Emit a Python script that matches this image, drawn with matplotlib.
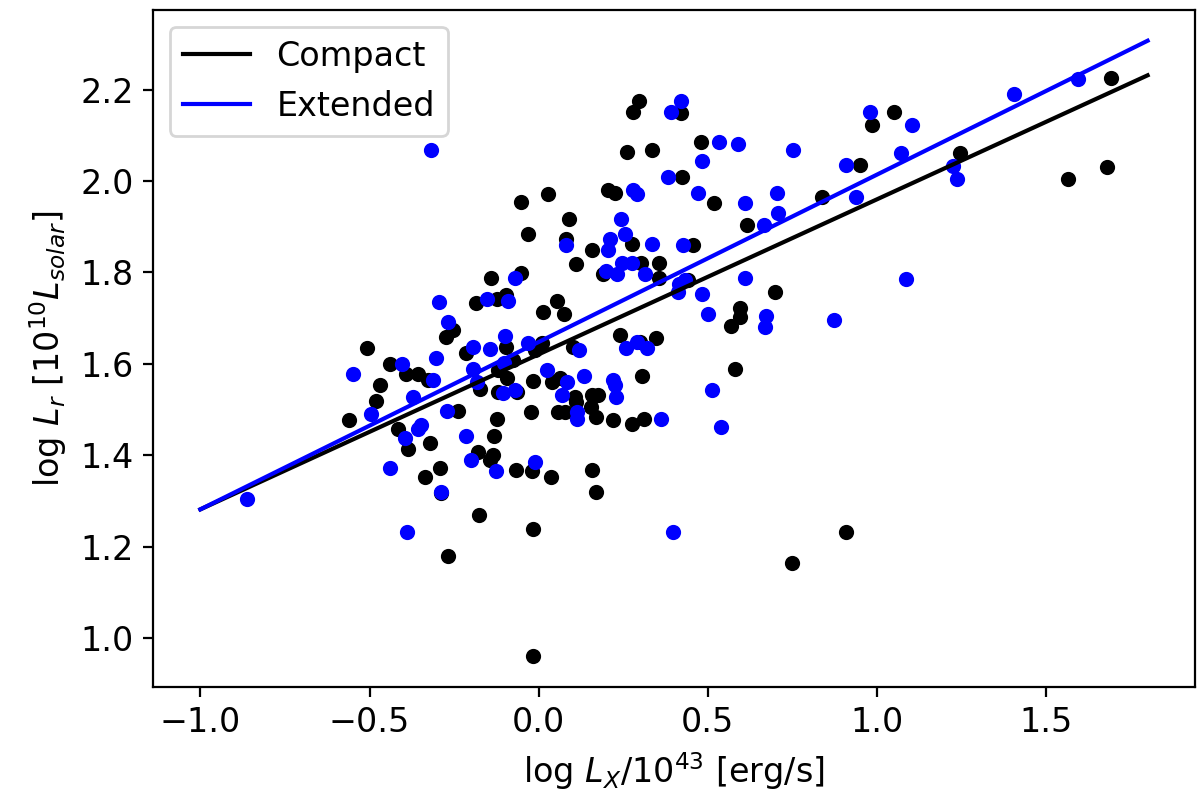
import numpy as np
import matplotlib
matplotlib.use("Agg")
import matplotlib.pyplot as plt

plt.rcParams['font.size'] = 12

# compact sources: log Lx/1e43, log Lr
compact_x = [-0.508, -0.440, -0.393, -0.358, -0.328, -0.470, -0.482, -0.561, -0.417, -0.387,
             -0.320, -0.337, -0.293, -0.290, -0.267, -0.275, -0.052, 0.028, 0.205, 0.225,
             0.090, -0.031, 0.081, 0.275, 0.158, 0.110, 0.302, 0.355, 0.190, -0.140,
             -0.052, -0.184, -0.122, -0.096, 0.054, 0.013, 0.075, -0.252, 0.240, 0.299,
             -0.096, -0.214, 0.010, -0.010, 0.102, -0.075, -0.119, -0.093, -0.016, 0.040,
             0.063, 0.305, -0.172, -0.119, -0.063, -0.237, -0.122, -0.022, 0.057, 0.078,
             0.108, 0.110, 0.158, 0.176, 0.155, 0.169, 0.219, 0.275, 0.311, -0.131,
             -0.178, -0.134, -0.143, -0.066, -0.019, 0.037, 0.158, 0.169, -0.175, -0.016,
             -0.016, 0.296, 0.420, 0.479, 0.334, 0.423, 0.950, 0.517, 0.838, 0.617,
             0.455, 0.355, 0.440, 0.700, 0.594, 0.594, 0.570, 0.346, 0.579, 0.909,
             0.750, 0.985, 1.050, 1.692, 1.244, 1.566, 1.680, 0.278, 0.261]
compact_y = [1.634, 1.599, 1.579, 1.577, 1.564, 1.555, 1.518, 1.477, 1.457, 1.415,
             1.428, 1.352, 1.372, 1.317, 1.181, 1.658, 1.955, 1.971, 1.981, 1.973,
             1.918, 1.885, 1.874, 1.863, 1.850, 1.818, 1.820, 1.820, 1.796, 1.789,
             1.798, 1.734, 1.743, 1.750, 1.737, 1.713, 1.710, 1.675, 1.664, 1.647,
             1.636, 1.625, 1.645, 1.630, 1.636, 1.608, 1.586, 1.570, 1.562, 1.560,
             1.570, 1.573, 1.546, 1.538, 1.538, 1.498, 1.479, 1.494, 1.494, 1.496,
             1.527, 1.516, 1.531, 1.531, 1.505, 1.483, 1.477, 1.468, 1.479, 1.442,
             1.407, 1.400, 1.389, 1.369, 1.365, 1.352, 1.369, 1.319, 1.269, 1.238,
             0.961, 2.176, 2.148, 2.086, 2.067, 2.008, 2.036, 1.951, 1.966, 1.903,
             1.861, 1.787, 1.783, 1.758, 1.723, 1.702, 1.682, 1.656, 1.588, 1.232,
             1.164, 2.123, 2.152, 2.226, 2.062, 2.005, 2.030, 2.152, 2.064]

# extended sources
extended_x = [-0.862, -0.549, -0.405, -0.311, -0.370, -0.496, -0.349, -0.358, -0.396, -0.440,
              -0.290, -0.390, -0.302, -0.267, -0.296, -0.270, -0.317, 0.278, 0.290, 0.243,
              0.081, 0.255, 0.211, 0.205, 0.335, 0.246, 0.275, 0.199, 0.231, 0.314,
              -0.069, -0.152, -0.090, 0.290, 0.320, 0.258, -0.099, -0.193, -0.143, -0.031,
              0.119, -0.102, -0.193, 0.025, 0.084, 0.134, 0.219, 0.225, -0.181, -0.105,
              -0.069, 0.069, 0.113, 0.113, 0.228, -0.214, -0.199, -0.125, -0.010, 0.420,
              0.390, 0.532, 0.588, 0.753, 0.482, 0.381, 0.909, 0.470, 0.611, 0.705,
              0.708, 0.938, 0.667, 0.426, 0.432, 0.415, 0.411, 0.482, 0.611, 0.502,
              0.673, 0.670, 0.873, 0.511, 0.361, 0.538, 0.396, 0.979, 1.103, 1.404,
              1.595, 1.071, 1.224, 1.238, 1.085]
extended_y = [1.304, 1.577, 1.599, 1.564, 1.527, 1.490, 1.466, 1.457, 1.439, 1.372,
              1.321, 1.232, 1.612, 1.691, 1.735, 1.498, 2.067, 1.981, 1.971, 1.918,
              1.861, 1.885, 1.874, 1.850, 1.863, 1.820, 1.820, 1.804, 1.796, 1.796,
              1.789, 1.741, 1.737, 1.647, 1.634, 1.634, 1.662, 1.638, 1.632, 1.645,
              1.630, 1.601, 1.590, 1.586, 1.560, 1.573, 1.564, 1.555, 1.560, 1.536,
              1.544, 1.531, 1.494, 1.479, 1.527, 1.442, 1.389, 1.365, 1.385, 2.176,
              2.152, 2.086, 2.082, 2.067, 2.043, 2.008, 2.036, 1.973, 1.951, 1.973,
              1.931, 1.964, 1.903, 1.861, 1.783, 1.775, 1.757, 1.754, 1.787, 1.710,
              1.704, 1.680, 1.697, 1.542, 1.479, 1.463, 1.232, 2.152, 2.123, 2.191,
              2.224, 2.062, 2.032, 2.005, 1.785]

# fit lines (slope, intercept)
fit_x = np.array([-1.0, 1.8])
compact_fit = (0.339, 1.621)
extended_fit = (0.366, 1.648)

fig, ax = plt.subplots(figsize=(6, 4.055), dpi=200)
fig.subplots_adjust(left=0.1275, right=0.9958, top=0.9877, bottom=0.153)

ax.scatter(compact_x, compact_y, s=20, color='k')
ax.scatter(extended_x, extended_y, s=20, color='b')
ax.plot(fit_x, compact_fit[0] * fit_x + compact_fit[1], color='k', label='Compact')
ax.plot(fit_x, extended_fit[0] * fit_x + extended_fit[1], color='b', label='Extended')

ax.set_xlabel(r'log $L_X/10^{43}$ [erg/s]')
ax.set_ylabel(r'log $L_r$ [$10^{10} L_{solar}$]')
ax.legend(loc='upper left')

plt.savefig('out.png')
